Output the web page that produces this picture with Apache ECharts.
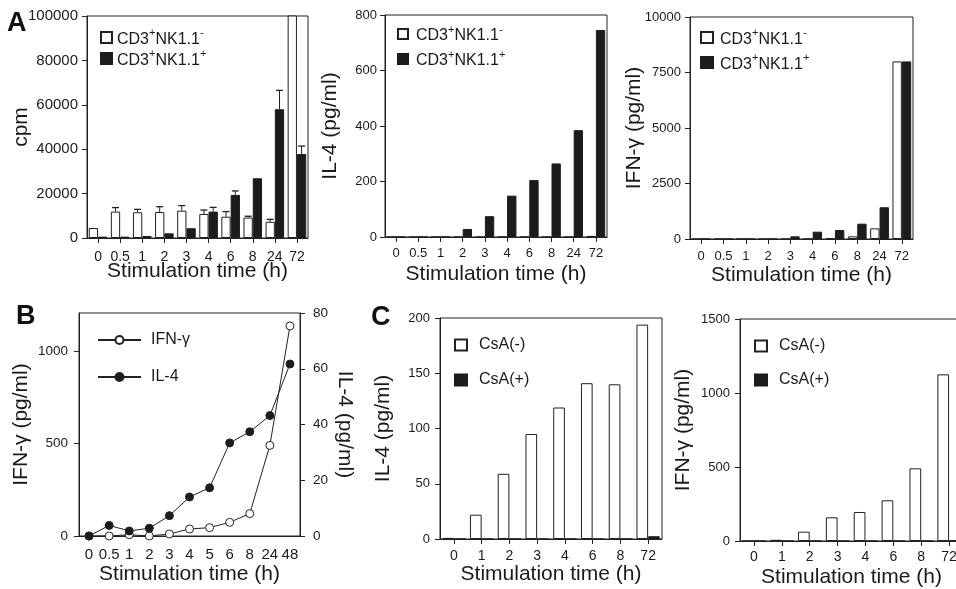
<!DOCTYPE html>
<html>
<head>
<meta charset="utf-8">
<script src="https://cdn.jsdelivr.net/npm/echarts@6/dist/echarts.min.js"></script>
<style>
html,body{margin:0;padding:0;background:#fff;}
#c{width:956px;height:589px;}
</style>
</head>
<body>
<div id="c"></div>
<script>
// ---------- data ----------
const timesA = ['0','0.5','1','2','3','4','6','8','24','72'];
// A1: proliferation (cpm)
const cpmNeg    = [4500, 11900, 11600, 11700, 12300, 10800, 9600, 9200, 7300, 130000];
const cpmNegErr = [null, 1800, 1300, 2400, 2300, 1800, 2300, 600, 1100, null];
const cpmPos    = [600, 600, 900, 2100, 4400, 11900, 19400, 26900, 58000, 37800];
const cpmPosErr = [null, null, null, null, null, 1900, 1800, null, 8500, 3600];
// A2: IL-4 (pg/ml)
const il4Neg = [0, 0, 0, 0, 0, 0, 0, 0, 0, 4];
const il4Pos = [0, 0, 0, 29, 75, 149, 205, 265, 385, 746];
// A3: IFN-g (pg/ml)
const ifnNeg = [0, 0, 0, 0, 0, 0, 45, 120, 480, 8000];
const ifnPos = [0, 0, 0, 0, 120, 330, 405, 690, 1430, 8000];
// B: time course
const timesB = ['0','0.5','1','2','3','4','5','6','8','24','48'];
const ifnB = [0, 0, 7, 0, 11, 38, 45, 74, 121, 490, 1136];
const il4B = [0, 3.8, 1.8, 2.8, 7.3, 14, 17.3, 33.4, 37.4, 43.2, 61.7];
// C: CsA
const timesC = ['0','1','2','3','4','6','8','72'];
const il4CsANeg = [1, 22, 59, 95, 119, 141, 140, 194];
const il4CsAPos = [0, 0, 0, 0, 0, 0, 0, 2.5];
const ifnCsANeg = [0, 8, 63, 160, 196, 275, 491, 1126];
const ifnCsAPos = [0, 0, 0, 0, 0, 0, 0, 5];
// tick labels (B left y axis)
const ticksB = [0, 500, 1000];

// ---------- style ----------
const INK = '#1a1a1a';
const LINE = '#222';
const FONT = 'Liberation Sans';
const BW = 0.42;

const grids = [
  {left: 87,  top: 16,  width: 221, height: 222},
  {left: 385, top: 15,  width: 222, height: 222},
  {left: 690, top: 17,  width: 223, height: 222},
  {left: 79,  top: 313, width: 221, height: 223},
  {left: 440, top: 318, width: 222, height: 221},
  {left: 740, top: 319, width: 223, height: 222}
].map(g => Object.assign(g, {show: true, borderColor: LINE, borderWidth: 1, backgroundColor: 'transparent', containLabel: false, outerBoundsMode: 'none'}));

function catAxis(gi, data, labelMargin, nameGap, fontSize, showTick) {
  return {
    type: 'category', gridIndex: gi, data: data,
    axisLine: {lineStyle: {color: LINE, width: 1}},
    axisTick: {show: showTick, alignWithLabel: true, length: 5, lineStyle: {color: LINE}},
    axisLabel: {interval: 0, fontSize: fontSize, color: INK, margin: labelMargin, fontFamily: FONT},
    name: 'Stimulation time (h)', nameLocation: 'middle', nameGap: nameGap, nameMoveOverlap: false,
    nameTextStyle: {fontSize: 21, color: INK, fontFamily: FONT}
  };
}
function plain(v) { return String(v); }
function valAxis(gi, min, max, interval, name, nameGap, labelMargin, fontSize, extra) {
  const a = {
    type: 'value', gridIndex: gi, min: min, max: max, interval: interval,
    splitLine: {show: false},
    axisLine: {show: true, lineStyle: {color: LINE, width: 1}},
    axisTick: {show: true, length: 5, lineStyle: {color: LINE}},
    axisLabel: {fontSize: fontSize, color: INK, margin: labelMargin, fontFamily: FONT, formatter: plain},
    name: name, nameLocation: 'middle', nameGap: nameGap, nameMoveOverlap: false,
    nameTextStyle: {fontSize: 21, color: INK, fontFamily: FONT}
  };
  return Object.assign(a, extra || {});
}

const whiteStyle = {color: '#ffffff', borderColor: LINE, borderWidth: 1};
const blackStyle = {color: '#1c1c1c', borderColor: '#1c1c1c', borderWidth: 1};

function barPair(gi, negName, posName, neg, pos) {
  return [
    {type: 'bar', name: negName, xAxisIndex: gi, yAxisIndex: gi, data: neg, barWidth: (BW * 100) + '%', barGap: '0%', itemStyle: whiteStyle, emphasis: {disabled: true}},
    {type: 'bar', name: posName, xAxisIndex: gi, yAxisIndex: gi, data: pos, barWidth: (BW * 100) + '%', barGap: '0%', itemStyle: blackStyle, emphasis: {disabled: true}}
  ];
}

function errSeries(gi, name, vals, errs, side) {
  const d = [];
  vals.forEach((v, i) => { if (errs[i] != null) d.push([i, v, v + errs[i]]); });
  return {
    type: 'custom', name: name, xAxisIndex: gi, yAxisIndex: gi, data: d, z: 5,
    encode: {x: 0, y: [1, 2]},
    renderItem: function (params, api) {
      const x = api.value(0), y0 = api.value(1), y1 = api.value(2);
      const p0 = api.coord([x, y0]);
      const p1 = api.coord([x, y1]);
      const bw = api.size([1, 0])[0] * BW;
      const cx = p0[0] + side * bw / 2;
      const cap = bw * 0.75;
      return {type: 'group', children: [
        {type: 'line', shape: {x1: cx, y1: p0[1], x2: cx, y2: p1[1]}, style: {stroke: LINE, lineWidth: 1}},
        {type: 'line', shape: {x1: cx - cap / 2, y1: p1[1], x2: cx + cap / 2, y2: p1[1]}, style: {stroke: LINE, lineWidth: 1.3}}
      ]};
    }
  };
}

const NEG = 'CD3+NK1.1-', POS = 'CD3+NK1.1+';
function cdFormatter(name) {
  return name.replace(/^CD3(.)NK1\.1(.)$/, '{n|CD3}{s|$1}{n|NK1.1}{s|$2}');
}
function legendA(left, top, iw, ih, gap, pad) {
  return {
    left: left, top: top, padding: 0, orient: 'vertical', itemWidth: iw, itemHeight: ih, itemGap: gap,
    icon: 'rect', selectedMode: false, data: [NEG, POS], formatter: cdFormatter,
    textStyle: {fontSize: 16, color: INK, fontFamily: FONT, padding: [0, 0, 0, pad],
      rich: {
        n: {fontSize: 16, color: INK, fontFamily: FONT, lineHeight: 20, verticalAlign: 'bottom', padding: [0, 0, 0, 0]},
        s: {fontSize: 11, color: INK, fontFamily: FONT, lineHeight: 11, verticalAlign: 'top', padding: [0, 0, 9, 0]}
      }}
  };
}
function legendC(left, top, gap) {
  return {
    left: left, top: top, padding: 0, orient: 'vertical', itemWidth: 12, itemHeight: 11, itemGap: gap,
    icon: 'rect', selectedMode: false, data: ['CsA(-)', 'CsA(+)'],
    textStyle: {fontSize: 16, color: INK, fontFamily: FONT, padding: [0, 0, 0, 7]}
  };
}

const option = {
  animation: false,
  textStyle: {fontFamily: FONT, color: INK},
  grid: grids,
  xAxis: [
    catAxis(0, timesA, 12, 23, 14, true),
    catAxis(1, timesA, 10, 27, 13, true),
    catAxis(2, timesA, 11, 26, 13, true),
    catAxis(3, timesB, 11, 28, 15, false),
    catAxis(4, timesC, 10, 25, 14, true),
    catAxis(5, timesC, 9, 26, 14, true)
  ],
  yAxis: [
    valAxis(0, 0, 100000, 20000, 'cpm', 55, 9, 15),
    valAxis(1, 0, 800, 200, 'IL-4 (pg/ml)', 44, 8, 13),
    valAxis(2, 0, 10000, 2500, 'IFN-γ (pg/ml)', 45, 9, 13),
    valAxis(3, 0, 1206, null, 'IFN-γ (pg/ml)', 47, 11, 13.5, {
      axisTick: {show: true, length: 5, lineStyle: {color: LINE}, customValues: ticksB},
      axisLabel: {fontSize: 13.5, color: INK, margin: 11, fontFamily: FONT, formatter: plain, customValues: ticksB}
    }),
    valAxis(4, 0, 200, 50, 'IL-4 (pg/ml)', 46, 10, 13),
    valAxis(5, 0, 1500, 500, 'IFN-γ (pg/ml)', 46, 10, 13),
    valAxis(3, 0, 80, 20, 'IL-4 (pg/ml)', 34, 13, 13.5, {position: 'right', nameRotate: -90})
  ],
  legend: [
    legendA(100, 27.5, 11, 11, 1, 0),
    legendA(397, 24, 10, 10, 5, 3),
    legendA(700, 27.5, 12, 11, 5, 2),
    {
      left: 97, top: 332, padding: 0, orient: 'vertical', itemWidth: 43, itemHeight: 10, itemGap: 21,
      selectedMode: false, data: ['IFN-γ', 'IL-4'],
      textStyle: {fontSize: 16, color: INK, fontFamily: FONT, padding: [0, 0, 0, 5]}
    },
    legendC(454, 337, 19),
    legendC(754, 338, 18)
  ],
  series: [].concat(
    barPair(0, NEG, POS, cpmNeg, cpmPos),
    [errSeries(0, 'errA1neg', cpmNeg, cpmNegErr, -1), errSeries(0, 'errA1pos', cpmPos, cpmPosErr, 1)],
    barPair(1, NEG, POS, il4Neg, il4Pos),
    barPair(2, NEG, POS, ifnNeg, ifnPos),
    [
      {type: 'line', name: 'IFN-γ', xAxisIndex: 3, yAxisIndex: 3, data: ifnB, symbol: 'circle', symbolSize: 8,
       lineStyle: {color: LINE, width: 1}, itemStyle: {color: '#ffffff', borderColor: LINE, borderWidth: 1}, z: 3, emphasis: {disabled: true}},
      {type: 'line', name: 'IL-4', xAxisIndex: 3, yAxisIndex: 6, data: il4B, symbol: 'circle', symbolSize: 8,
       lineStyle: {color: LINE, width: 1}, itemStyle: {color: '#1c1c1c', borderColor: LINE, borderWidth: 1}, z: 4, emphasis: {disabled: true}}
    ],
    barPair(4, 'CsA(-)', 'CsA(+)', il4CsANeg, il4CsAPos),
    barPair(5, 'CsA(-)', 'CsA(+)', ifnCsANeg, ifnCsAPos)
  ),
  graphic: [
    {type: 'text', left: 7, top: 10, style: {text: 'A', fontSize: 27, fontWeight: 900, fontFamily: FONT, fill: '#111'}},
    {type: 'text', left: 16, top: 303, style: {text: 'B', fontSize: 27, fontWeight: 900, fontFamily: FONT, fill: '#111'}},
    {type: 'text', left: 371, top: 304, style: {text: 'C', fontSize: 27, fontWeight: 900, fontFamily: FONT, fill: '#111'}}
  ]
};

const chart = echarts.init(document.getElementById('c'), null, {renderer: 'canvas'});
chart.setOption(option);
</script>
</body>
</html>
